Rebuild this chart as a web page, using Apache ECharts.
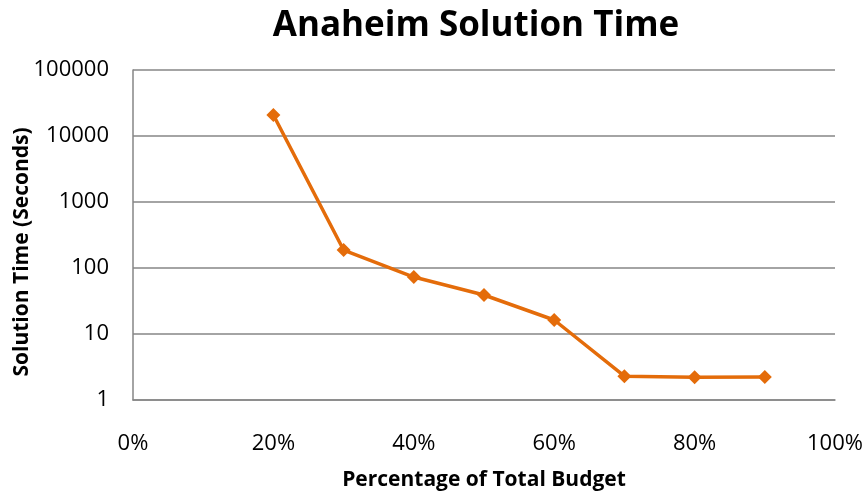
<!DOCTYPE html>
<html lang="en">
    <head>
        <meta charset="UTF-8" />
        <title>Anaheim Solution Time</title>
        <script src="https://cdn.jsdelivr.net/npm/echarts@6.0.0/dist/echarts.min.js"></script>
    </head>
    <body style="margin: 0">
        <div id="main" style="width: 868px; height: 501px"></div>

        <script>
            // Data
            const budgetPct = [20, 30, 40, 50, 60, 70, 80, 90];
            const solutionTime = [20800, 187, 73, 39, 16.3, 2.3, 2.22, 2.23];

            const fontFamily = "'Open Sans', 'Liberation Sans', sans-serif";
            const gray = "#868686";

            let myChart = echarts.init(document.getElementById("main"));

            let options = {
                title: {
                    text: "Anaheim Solution Time",
                    left: 471,
                    textAlign: "center",
                    top: 4,
                    textStyle: { fontFamily, fontSize: 35, fontWeight: "bold", color: "#000" }
                },
                grid: { left: 133, right: 33, top: 70, bottom: 101, outerBoundsMode: "none" },
                xAxis: {
                    type: "value",
                    min: 0,
                    max: 100,
                    interval: 20,
                    name: "Percentage of Total Budget",
                    nameLocation: "middle",
                    nameGap: 70,
                    nameTextStyle: { fontFamily, fontSize: 21, fontWeight: "bold", color: "#000" },
                    axisLine: { lineStyle: { color: gray, width: 1.5 } },
                    axisTick: { show: false },
                    splitLine: { show: false },
                    axisLabel: {
                        margin: 33,
                        fontFamily,
                        fontSize: 22,
                        color: "#000",
                        formatter: (v) => v + "%"
                    }
                },
                yAxis: {
                    type: "log",
                    logBase: 10,
                    min: 1,
                    max: 100000,
                    name: "Solution Time (Seconds)",
                    nameLocation: "middle",
                    nameGap: 100,
                    nameMoveOverlap: false,
                    nameTextStyle: {
                        fontFamily,
                        fontSize: 21,
                        fontWeight: "bold",
                        color: "#000",
                        padding: [0, 34, 0, 0]
                    },
                    axisLine: { show: true, lineStyle: { color: gray, width: 1.5 } },
                    axisTick: { show: false },
                    splitLine: { lineStyle: { color: gray, width: 1.5 } },
                    axisLabel: {
                        margin: 24,
                        fontFamily,
                        fontSize: 22,
                        color: "#000",
                        formatter: (v) => String(Math.round(v))
                    }
                },
                series: [
                    {
                        name: "Solution Time",
                        type: "line",
                        data: budgetPct.map((x, i) => [x, solutionTime[i]]),
                        symbol: "diamond",
                        symbolSize: 14,
                        lineStyle: { color: "#E46C0A", width: 3.5 },
                        itemStyle: { color: "#E46C0A" },
                        animation: false
                    }
                ]
            };

            myChart.setOption(options);
        </script>
    </body>
</html>
